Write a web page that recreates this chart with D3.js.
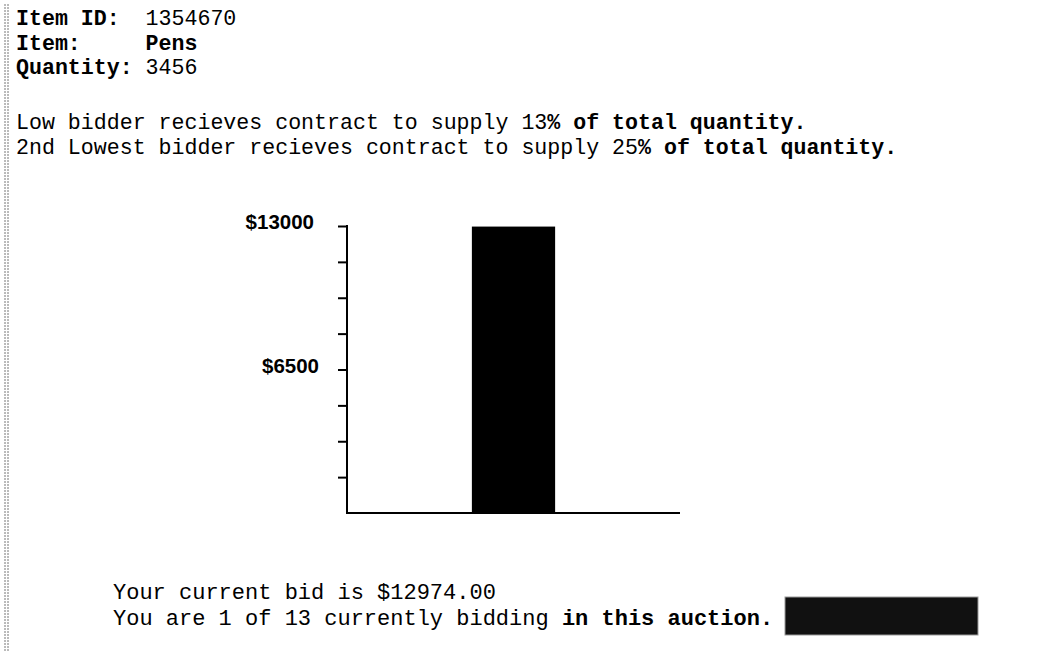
<!DOCTYPE html>
<html>
<head>
<meta charset="utf-8">
<script src="https://cdn.jsdelivr.net/npm/d3@7"></script>
<style>
  body { margin: 0; background: #fff; }
  svg { display: block; }
  .mono { font-family: "Liberation Mono", "DejaVu Sans Mono", monospace; font-size: 21.6px; fill: #000; }
  .foot { font-size: 22px; }
  .b { font-weight: bold; }
</style>
</head>
<body>
<script>
var settings = {
  width: 1064,
  height: 651
}

// header info
var headerLines = [
  [{t: 'Item ID:  ', b: true}, {t: '1354670', b: false}],
  [{t: 'Item:     ', b: true}, {t: 'Pens', b: true}],
  [{t: 'Quantity: ', b: true}, {t: '3456', b: false}]
];
var ruleLines = [
  [{t: 'Low bidder recieves contract to supply 13', b: false}, {t: '% of total quantity.', b: true}],
  [{t: '2nd Lowest bidder recieves contract to supply 25', b: false}, {t: '% of total quantity.', b: true}]
];
var footerLines = [
  [{t: 'Your current bid is $12974.00', b: false}],
  [{t: 'You are 1 of 13 currently bidding ', b: false}, {t: 'in this auction.', b: true}]
];

// chart data
var slots = ['low', 'you', 'high'];
var bids = [0, 12974, 0];
var yMax = 13000;
var yLabels = [13000, 6500];
var tickStep = 1625;

var svg = d3.select('body').append('svg')
  .attr('width', settings.width)
  .attr('height', settings.height);

// scanned page edge
[5, 8].forEach(function(x){
  svg.append('line')
    .attr('x1', x).attr('x2', x)
    .attr('y1', 4).attr('y2', settings.height)
    .style('stroke', '#777')
    .style('stroke-width', 1)
    .style('stroke-dasharray', '2,1');
});

var writeLines = function(lines, x, y0, dy, cls){
  lines.forEach(function(parts, i){
    var t = svg.append('text')
      .attr('class', 'mono' + (cls ? ' ' + cls : ''))
      .attr('x', x)
      .attr('y', y0 + i * dy)
      .attr('xml:space', 'preserve')
      .style('white-space', 'pre');
    parts.forEach(function(p){
      t.append('tspan')
        .attr('class', p.b ? 'b' : null)
        .text(p.t);
    });
  });
}

writeLines(headerLines, 16, 25, 24.5);
writeLines(ruleLines, 16, 129, 24.5);
writeLines(footerLines, 113, 599, 26, 'foot');

// chart
var chart = {left: 347, right: 680, top: 226, bottom: 513};

var x = d3.scaleBand()
  .domain(slots)
  .range([chart.left, chart.right])
  .padding(0.2);

var y = d3.scaleLinear()
  .domain([0, yMax])
  .range([chart.bottom, chart.top]);

var yAxis = d3.axisLeft(y)
  .tickValues(d3.range(tickStep, yMax + 1, tickStep))
  .tickSize(9)
  .tickFormat('');

var axisG = svg.append('g')
  .attr('transform', 'translate(' + chart.left + ',0)')
  .call(yAxis);
axisG.select('.domain').remove();
axisG.selectAll('.tick line').style('stroke', '#000').style('stroke-width', 2);

svg.append('line')
  .attr('x1', chart.left).attr('x2', chart.left)
  .attr('y1', chart.top - 1).attr('y2', chart.bottom + 1)
  .style('stroke', '#000').style('stroke-width', 2);

svg.append('line')
  .attr('x1', chart.left).attr('x2', chart.right)
  .attr('y1', chart.bottom).attr('y2', chart.bottom)
  .style('stroke', '#000').style('stroke-width', 2);

svg.selectAll('text.ylab').data(yLabels)
  .enter().append('text')
    .attr('class', 'ylab')
    .attr('x', function(d){ return d === yMax ? 314 : 319; })
    .attr('y', function(d){ return y(d) + 3; })
    .attr('text-anchor', 'end')
    .style('font-family', '"Liberation Sans", Arial, sans-serif')
    .style('font-size', '20.5px')
    .style('font-weight', 'bold')
    .text(function(d){ return '$' + d; });

svg.selectAll('rect.bar').data(bids)
  .enter().append('rect')
    .attr('class', 'bar')
    .attr('x', function(d, i){ return x(slots[i]); })
    .attr('y', function(d){ return y(d); })
    .attr('width', x.bandwidth())
    .attr('height', function(d){ return chart.bottom - y(d); })
    .attr('fill', '#000');

// submit button (blacked out)
svg.append('rect')
  .attr('x', 785)
  .attr('y', 597)
  .attr('width', 193)
  .attr('height', 38)
  .attr('fill', '#111')
  .style('stroke', '#999')
  .style('stroke-width', 1);
</script>
</body>
</html>
